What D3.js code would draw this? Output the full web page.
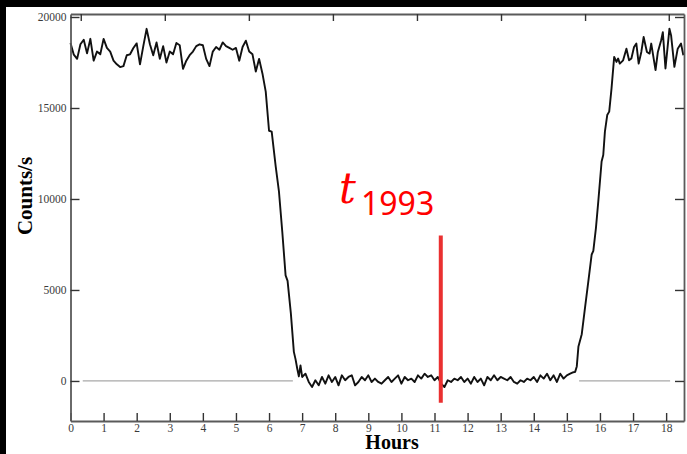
<!DOCTYPE html>
<html>
<head>
<meta charset="utf-8">
<script src="https://cdn.jsdelivr.net/npm/d3@7"></script>
<style>
  body { margin: 0; background: #000; }
  svg { display: block; }
</style>
</head>
<body>
<svg width="687" height="454"></svg>
<script>
// light curve: hours vs counts/s
var hours = [
  0.0, 0.1, 0.2, 0.3, 0.4, 0.5, 0.6, 0.7, 0.8, 0.9,
  1.0, 1.1, 1.2, 1.3, 1.4, 1.5, 1.6, 1.7, 1.8, 1.9,
  2.0, 2.1, 2.2, 2.3, 2.4, 2.5, 2.6, 2.7, 2.8, 2.9,
  3.0, 3.1, 3.2, 3.3, 3.4, 3.5, 3.6, 3.7, 3.8, 3.9,
  4.0, 4.1, 4.2, 4.3, 4.4, 4.5, 4.6, 4.7, 4.8, 4.9,
  5.0, 5.1, 5.2, 5.3, 5.4, 5.5, 5.6, 5.7, 5.8, 5.9,
  6.0, 6.08, 6.2, 6.3, 6.4, 6.5, 6.56, 6.66, 6.75, 6.8, 6.85, 6.9, 6.95,
  7.0, 7.1, 7.2, 7.3, 7.4, 7.5, 7.6, 7.7, 7.8, 7.9,
  8.0, 8.1, 8.2, 8.3, 8.4, 8.5, 8.6, 8.7, 8.8, 8.9,
  9.0, 9.1, 9.2, 9.3, 9.4, 9.5, 9.6, 9.7, 9.8, 9.9,
  10.0, 10.1, 10.2, 10.3, 10.4, 10.5, 10.6, 10.7, 10.8, 10.9,
  11.0, 11.1, 11.2, 11.3, 11.4, 11.5, 11.6, 11.7, 11.8, 11.9,
  12.0, 12.1, 12.2, 12.3, 12.4, 12.5, 12.6, 12.7, 12.8, 12.9,
  13.0, 13.1, 13.2, 13.3, 13.4, 13.5, 13.6, 13.7, 13.8, 13.9,
  14.0, 14.1, 14.2, 14.3, 14.4, 14.5, 14.6, 14.7, 14.8, 14.9,
  15.0, 15.1, 15.2, 15.25, 15.3, 15.35, 15.45, 15.55, 15.65, 15.75,
  15.8, 15.88, 15.95, 16.05, 16.1, 16.15, 16.22, 16.28, 16.35, 16.43,
  16.5, 16.55, 16.6, 16.7, 16.8, 16.88, 16.95, 17.03, 17.1, 17.17,
  17.25, 17.32, 17.42, 17.5, 17.55, 17.68, 17.75, 17.85, 17.9, 17.98,
  18.1, 18.15, 18.25, 18.35, 18.45, 18.52
];
var counts = [
  18570, 17930, 17700, 18500, 18750, 18000, 18800, 17600, 18100, 17950,
  18800, 18300, 18100, 17600, 17400, 17250, 17300, 17900, 17950, 18300,
  18550, 17400, 18400, 19350, 18500, 17900, 18600, 17700, 18400, 17500,
  18100, 17950, 18570, 18450, 17150, 17600, 17900, 18100, 18400, 18500,
  18450, 17700, 17300, 18100, 18350, 18200, 18600, 18400, 18300, 18200,
  18300, 17600, 18350, 18700, 18100, 17950, 17000, 17700, 16900, 15900,
  13750, 13700, 11800, 10400, 8200, 5800, 5500, 3700, 1600, 1200, 700, 250, 850,
  220, 400, -55, -330, 40, -240, 220, -150, 310, -55,
  220, -240, 310, 40, 220, 310, -240, -55, 220, 40,
  310, -55, 130, -55, -150, 40, 220, -55, 130, 310,
  -150, 220, 40, 130, -55, 310, 130, 400, 220, 310,
  40, 220, -150, -330, 40, -55, 130, 40, 220, -55,
  130, -150, 220, -55, 130, -240, 220, 40, 310, 40,
  220, 130, 40, 220, -55, -150, 40, -55, 130, 40,
  220, -55, 310, 130, 400, 40, 310, -55, 400, 130,
  310, 400, 480, 500, 800, 1900, 2570, 4050, 5490, 6950,
  7150, 8430, 9870, 12060, 12420, 13700, 14610, 14800, 16080, 17810,
  17530, 17720, 17440, 17620, 18260, 17620, 17720, 18350, 18540, 17440,
  18080, 18900, 18080, 17990, 18540, 17080, 18080, 18720, 19170, 17170,
  19360, 18990, 17260, 18260, 18540, 17900
];

var xTicks = [0, 1, 2, 3, 4, 5, 6, 7, 8, 9, 10, 11, 12, 13, 14, 15, 16, 17, 18];
var yTicks = [0, 5000, 10000, 15000, 20000];
var topTicks = [0.31, 2.85, 5.39, 7.93, 10.47, 13.01, 15.55, 18.08];
var zeroSegments = [[0.37, 6.72], [15.37, 18.12]];
var marker = { hour: 11.19, top: 8000, bottom: -1200, label: "t", sub: "1993" };

var svg = d3.select("svg");

svg.append("rect").attr("x", 6).attr("y", 7).attr("width", 681).attr("height", 447)
  .attr("fill", "#fff");

var x = d3.scaleLinear().domain([0, 18.54]).range([70.5, 684]);
var y = d3.scaleLinear().domain([-2200, 20165]).range([421, 14]);

var axisColor = "#5a5a5a";
var labelFont = "'Liberation Serif', 'Times New Roman', serif";

// zero reference line
svg.selectAll(".zero").data(zeroSegments).enter().append("line")
  .attr("x1", function (d) { return x(d[0]); })
  .attr("x2", function (d) { return x(d[1]); })
  .attr("y1", y(0)).attr("y2", y(0))
  .attr("stroke", "#a8a8a8").attr("stroke-width", 1.2);

// data line
var pts = hours.map(function (h, i) { return [h, counts[i]]; });
svg.append("path")
  .datum(pts)
  .attr("fill", "none")
  .attr("stroke", "#111")
  .attr("stroke-width", 1.9)
  .attr("stroke-linejoin", "round")
  .attr("d", d3.line().x(function (d) { return x(d[0]); }).y(function (d) { return y(d[1]); }));

// axes, ticks drawn inward
var axB = svg.append("g").attr("transform", "translate(0," + y.range()[0] + ")")
  .call(d3.axisBottom(x).tickValues(xTicks).tickSizeInner(-8).tickSizeOuter(0).tickPadding(3));
var axT = svg.append("g").attr("transform", "translate(0," + y.range()[1] + ")")
  .call(d3.axisTop(x).tickValues(topTicks).tickSizeInner(-7).tickSizeOuter(0).tickFormat(""));
var axL = svg.append("g").attr("transform", "translate(" + x.range()[0] + ",0)")
  .call(d3.axisLeft(y).tickValues(yTicks).tickSizeInner(-9).tickSizeOuter(0).tickPadding(4).tickFormat(d3.format("d")));
var axR = svg.append("g").attr("transform", "translate(" + x.range()[1] + ",0)")
  .call(d3.axisRight(y).tickValues(yTicks).tickSizeInner(-9).tickSizeOuter(0).tickFormat(""));

[axB, axT, axL, axR].forEach(function (g) {
  g.select(".domain").attr("stroke", axisColor).attr("stroke-width", 1.8);
  g.selectAll(".tick line").attr("stroke", "#333").attr("stroke-width", 1.4);
  g.selectAll(".tick text").attr("fill", "#3a3a3a")
    .style("font-family", labelFont).style("font-size", "11.5px");
});

// axis titles
svg.append("text")
  .attr("x", 392).attr("y", 449)
  .attr("text-anchor", "middle")
  .style("font-family", labelFont).style("font-weight", "bold").style("font-size", "20px")
  .text("Hours");
svg.append("text")
  .attr("transform", "translate(32,196) rotate(-90)")
  .attr("text-anchor", "middle")
  .style("font-family", labelFont).style("font-weight", "bold").style("font-size", "21px")
  .text("Counts/s");

// marker line and label
svg.append("line")
  .attr("x1", x(marker.hour)).attr("x2", x(marker.hour))
  .attr("y1", y(marker.top)).attr("y2", y(marker.bottom))
  .attr("stroke", "#ea3030").attr("stroke-width", 4);

var lab = svg.append("text").attr("x", 339).attr("y", 203).attr("fill", "#ff0000");
lab.append("tspan")
  .style("font-family", "'DejaVu Serif', serif").style("font-style", "italic").style("font-size", "42px")
  .text(marker.label);
lab.append("tspan")
  .attr("x", 361).attr("y", 215)
  .style("font-family", "'Noto Sans', sans-serif").style("font-size", "32px")
  .text(marker.sub);
</script>
</body>
</html>
